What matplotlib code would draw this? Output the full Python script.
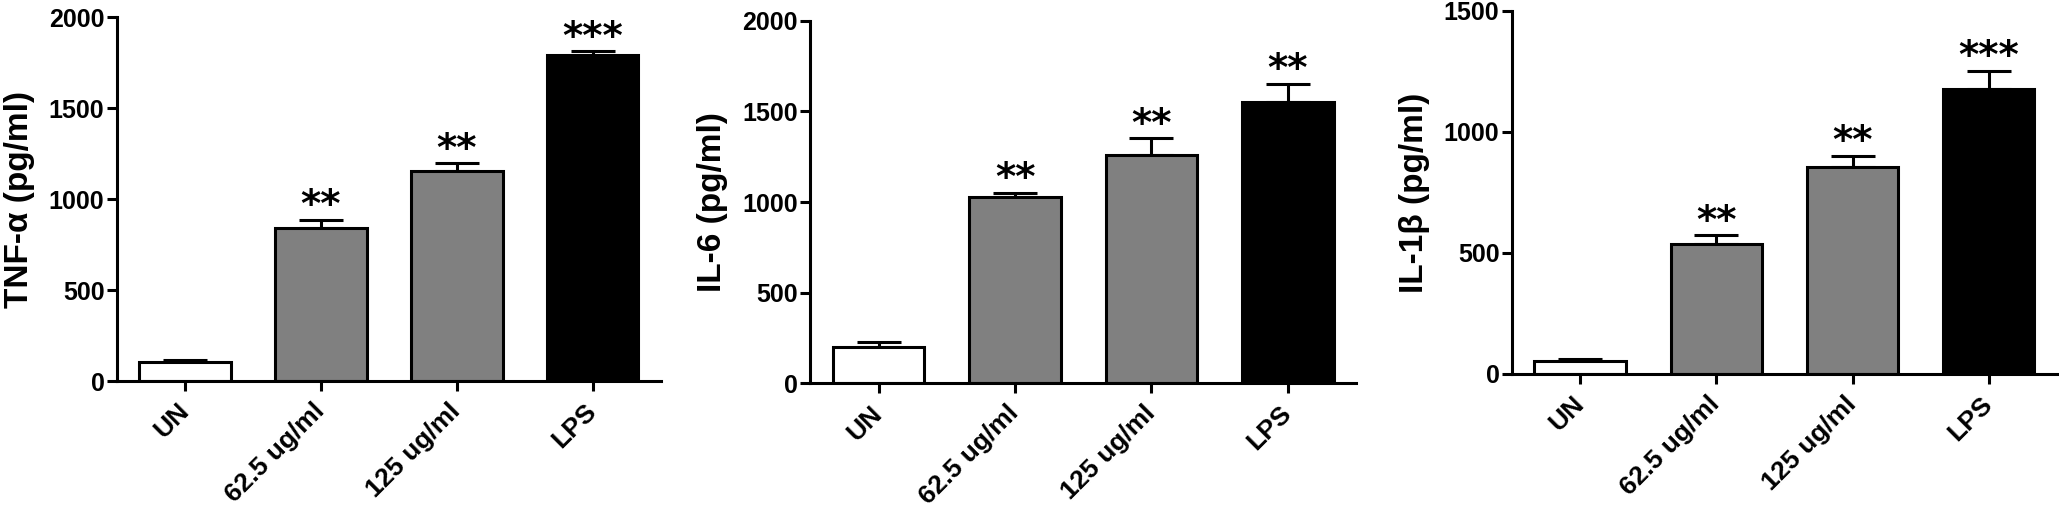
import matplotlib
matplotlib.use("Agg")
import matplotlib.pyplot as plt

categories = ["UN", "62.5 ug/ml", "125 ug/ml", "LPS"]
bar_colors = ["#ffffff", "#808080", "#808080", "#000000"]

tnf_mean = [103, 843, 1155, 1795]
tnf_err = [12, 43, 42, 18]
tnf_stars = ["", "**", "**", "***"]

il6_mean = [199, 1029, 1259, 1550]
il6_err = [27, 22, 92, 101]
il6_stars = ["", "**", "**", "**"]

il1b_mean = [54, 538, 854, 1178]
il1b_err = [8, 35, 48, 75]
il1b_stars = ["", "**", "**", "***"]

panels = [
    ("TNF-α (pg/ml)", tnf_mean, tnf_err, tnf_stars, 2000, [0, 500, 1000, 1500, 2000],
     [0.0568, 0.2573, 0.2642, 0.7090]),
    ("IL-6 (pg/ml)", il6_mean, il6_err, il6_stars, 2000, [0, 500, 1000, 1500, 2000],
     [0.3936, 0.2528, 0.2650, 0.7068]),
    ("IL-1β (pg/ml)", il1b_mean, il1b_err, il1b_stars, 1500, [0, 500, 1000, 1500],
     [0.7343, 0.2710, 0.2647, 0.7076]),
]

LW = 2.2
fig = plt.figure(figsize=(20.59, 5.13), dpi=100, facecolor="white")

for label, means, errs, stars, ymax, yticks, rect in panels:
    ax = fig.add_axes(rect)
    x = list(range(len(categories)))
    ax.bar(x, means, width=0.67, color=bar_colors, edgecolor="black", linewidth=LW, zorder=2)
    ax.errorbar(x, means, yerr=[[0] * len(errs), errs], fmt="none", ecolor="black",
                elinewidth=LW, capsize=16, capthick=LW, zorder=1)
    for xi, m, e, s in zip(x, means, errs, stars):
        if s:
            ax.annotate(s, (xi, m + e), xytext=(0, 2), textcoords="offset points",
                        ha="center", va="baseline", fontsize=28, fontweight="bold",
                        family="DejaVu Sans")

    ax.set_xlim(-0.5, 3.5)
    ax.set_ylim(0, ymax)
    ax.set_yticks(yticks)
    ax.set_xticks(x)
    ax.set_xticklabels(categories, rotation=45, ha="right", va="center",
                       rotation_mode="anchor", fontsize=19, fontweight="bold",
                       family="Liberation Sans")
    for t in ax.get_yticklabels():
        t.set_fontsize(18)
        t.set_fontweight("bold")
        t.set_family("Liberation Sans")
    ax.set_ylabel(label, fontsize=24, fontweight="bold", family="Liberation Sans", labelpad=10)

    for side in ["top", "right"]:
        ax.spines[side].set_visible(False)
    for side in ["left", "bottom"]:
        ax.spines[side].set_linewidth(LW)
    ax.tick_params(axis="y", direction="out", length=7, width=LW, pad=2)
    ax.tick_params(axis="x", direction="out", length=7, width=LW, pad=12)

fig.savefig("out.png", dpi=100, facecolor="white")
